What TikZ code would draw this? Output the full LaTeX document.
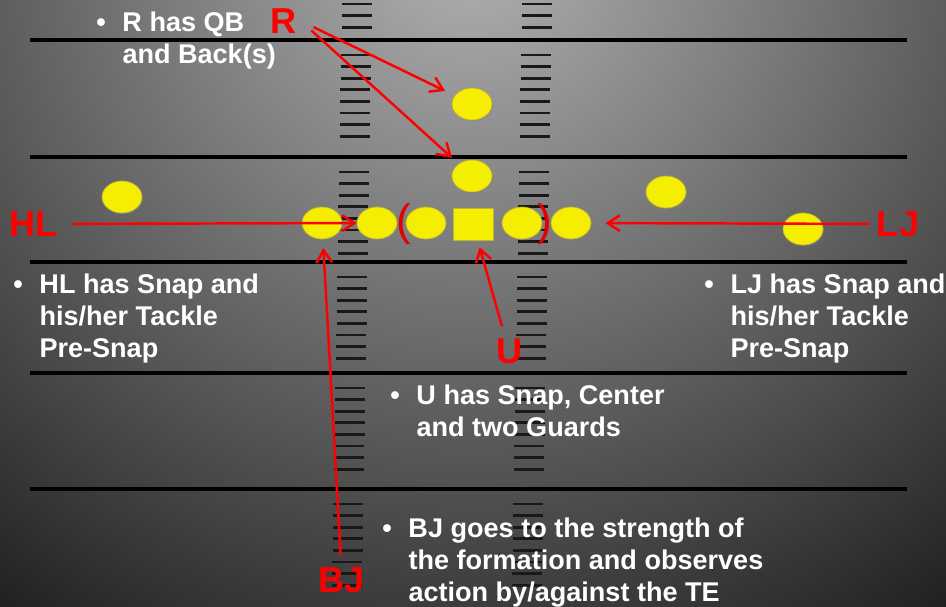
\documentclass[tikz,border=0pt]{standalone}
\usepackage{fontspec}
\setmainfont{Liberation Sans}
\usetikzlibrary{shapes.geometric, arrows.meta, shadows}
\definecolor{fieldyellow}{RGB}{246,238,0}
\newcommand{\bulletnote}[1]{\begin{tabular}{@{}l@{\hspace{9.5pt}}l@{}}\textbullet & #1\end{tabular}}

\begin{document}
\begin{tikzpicture}[x=0.02cm, y=-0.02cm]
  \tikzstyle{player} = [ellipse, minimum width=0.8cm, minimum height=0.64cm, inner sep=0pt, draw=yellow!70!black, line width=0.4pt, fill=fieldyellow, drop shadow={opacity=0.4, shadow xshift=0.6pt, shadow yshift=-0.8pt}]
  \tikzstyle{snapper} = [rectangle, minimum width=0.8cm, minimum height=0.64cm, inner sep=0pt, draw=yellow!70!black, line width=0.4pt, fill=fieldyellow, drop shadow={opacity=0.4, shadow xshift=0.6pt, shadow yshift=-0.8pt}]
  \tikzstyle{bracket} = [text=red!90!black, inner sep=0pt, font=\fontsize{25}{28}\selectfont]
  \tikzstyle{callname} = [text=red, inner sep=2pt, font=\fontsize{20.5}{24}\selectfont\bfseries]
  \tikzstyle{pointer} = [red, line width=1.4pt, -{Straight Barb[length=7pt, width=9pt]}]
  \tikzstyle{note} = [text=white, anchor=north west, inner sep=0pt, font=\fontsize{15.4}{18.1}\selectfont\bfseries]
  \tikzstyle{yardline} = [black, line width=2.8pt]
  \tikzstyle{hash} = [black!90, line width=1.5pt]

  % Field
  \useasboundingbox (0,0) rectangle (946,606);
  \begin{scope}
    \clip (0,0) rectangle (946,606);
    \shade[inner color=black!30, outer color=black] (470,-60) circle (20cm);
  \end{scope}
  \foreach \yl in {40,157,262,373,489}
    \draw[yardline] (30,\yl) -- (907,\yl);

  % Hash marks
  \foreach \hy in {4,15.6,27.2} {
    \draw[hash] ({342-0.017*\hy},\hy) -- ++(30,0);
    \draw[hash] ({522-0.017*\hy},\hy) -- ++(30,0);
  }
  \foreach \yl in {40,157,262,373,489} {
    \foreach \k in {0,...,7} {
      \pgfmathsetmacro{\hy}{\yl+15+11.6*\k}
      \draw[hash] ({342-0.017*\hy},\hy) -- ++(30,0);
      \draw[hash] ({522-0.017*\hy},\hy) -- ++(30,0);
    }
  }

  % Offense
  \node (rb) at (472,104) [player] {};
  \node (qb) at (472,176) [player] {};
  \node (lwr) at (122,197) [player] {};
  \node (wing) at (666,192) [player] {};
  \node (rwr) at (803,229) [player] {};
  \node (lte) at (322,223) [player] {};
  \node (lt) at (377,223) [player] {};
  \node (lg) at (426,223) [player] {};
  \node (snap) at (473,224) [snapper] {};
  \node (rg) at (522,223) [player] {};
  \node (rt) at (571,223) [player] {};
  \node (lbrk) at (404,224) [bracket] {(};
  \node (rbrk) at (545,224) [bracket] {)};

  % Officials
  \node (rlab) at (284,21) [callname] {R};
  \node (hllab) at (34,224) [callname] {HL};
  \node (ljlab) at (898,224) [callname] {LJ};
  \node (ulab) at (509,351) [callname] {U};
  \node (bjlab) at (342,580) [callname] {BJ};

  % Arrows
  \draw[pointer, shorten <=8pt, shorten >=6pt] (rlab.east) -- (rb);
  \draw[pointer, shorten <=8pt, shorten >=5pt] (rlab.east) -- (qb);
  \draw[pointer, shorten <=6pt] (hllab) -- (lt);
  \draw[pointer, shorten <=2pt, shorten >=8pt] (ljlab) -- (rt);
  \draw[pointer, shorten <=5pt, shorten >=4pt] (ulab) -- (snap);
  \draw[pointer, shorten <=5pt, shorten >=5pt] (bjlab) -- (lte);

  % Notes
  \node (rnote) at (96,9) [note] {\bulletnote{R has QB\\ & and Back(s)}};
  \node (hlnote) at (13,271) [note] {\bulletnote{HL has Snap and\\ & his/her Tackle\\ & Pre-Snap}};
  \node (ljnote) at (704,271) [note] {\bulletnote{LJ has Snap and\\ & his/her Tackle\\ & Pre-Snap}};
  \node (unote) at (390,382) [note] {\bulletnote{U has Snap, Center\\ & and two Guards}};
  \node (bjnote) at (382,515) [note] {\bulletnote{BJ goes to the strength of\\ & the formation and observes\\ & action by/against the TE}};
\end{tikzpicture}
\end{document}
